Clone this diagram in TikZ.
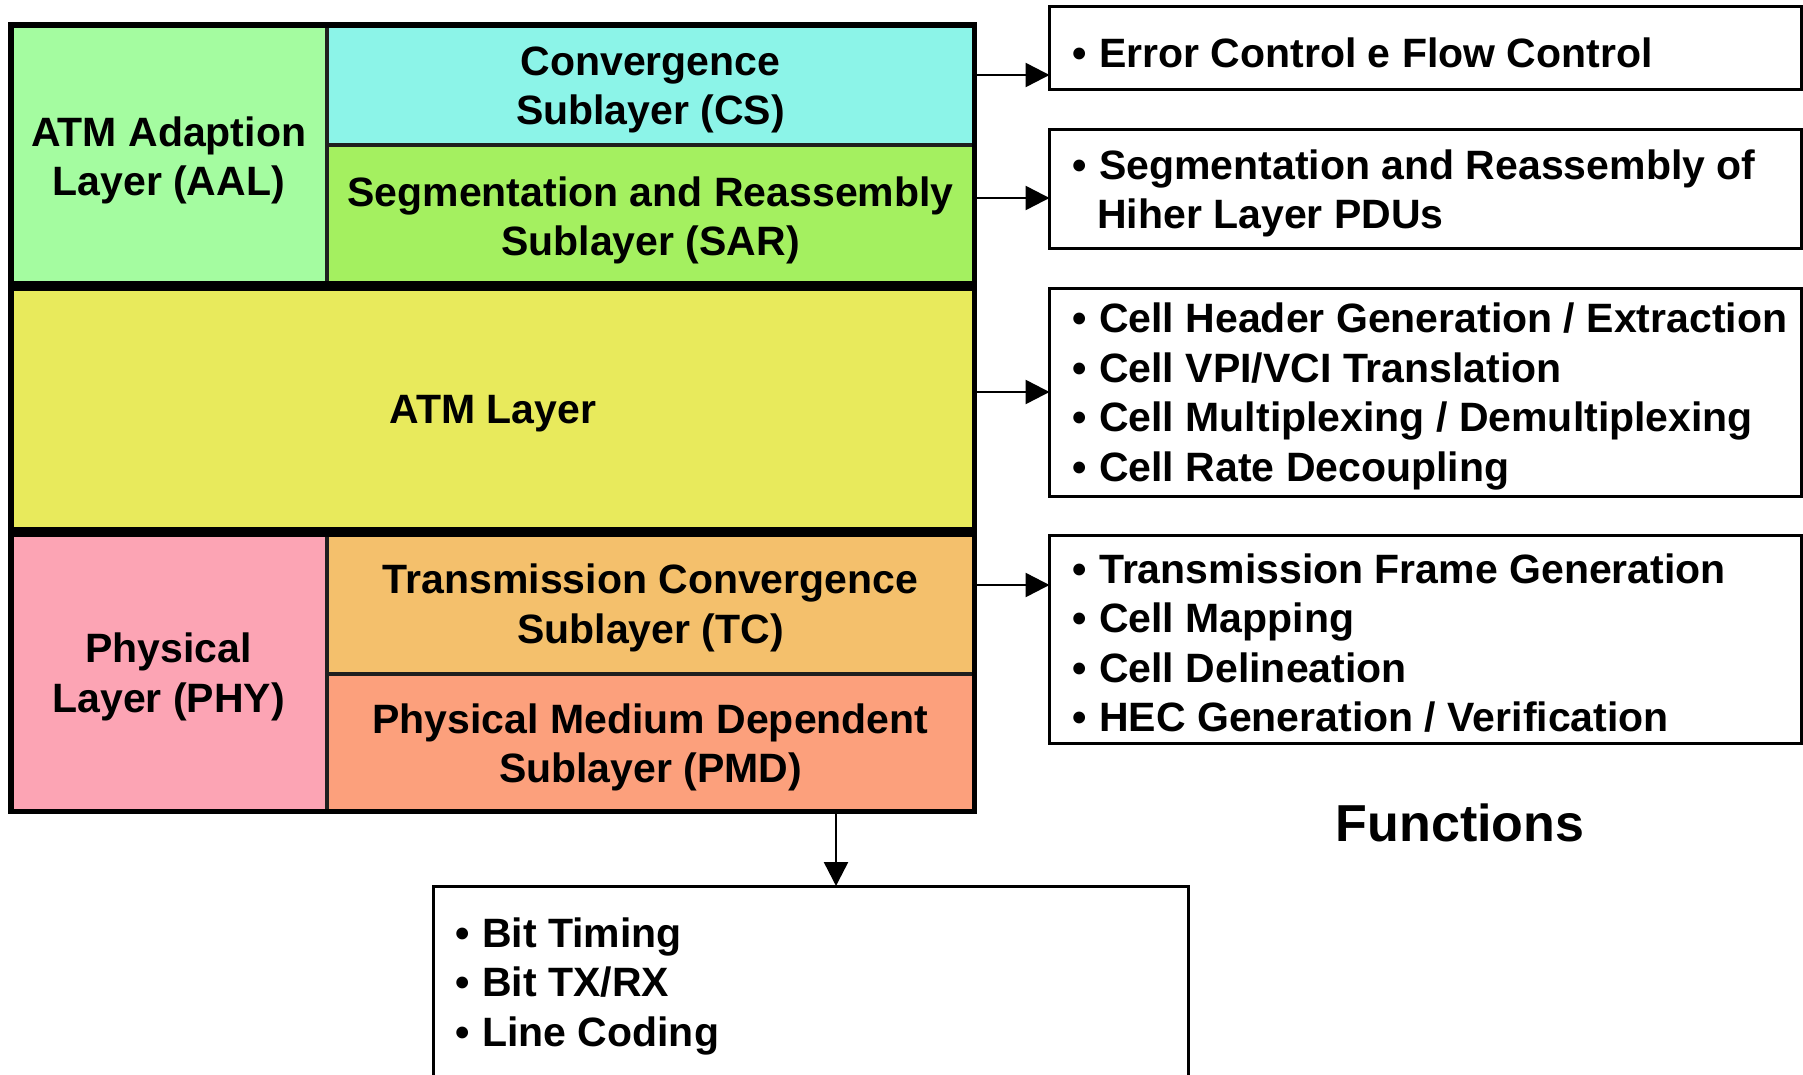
\documentclass[tikz,border=0pt]{standalone}
\usepackage{fontspec}
\setmainfont{Liberation Sans}
\usetikzlibrary{arrows.meta}
\definecolor{aalc}{HTML}{A4FCA0}
\definecolor{csc}{HTML}{8CF4E8}
\definecolor{sarc}{HTML}{A4F060}
\definecolor{atmc}{HTML}{E8EA5C}
\definecolor{phyc}{HTML}{FCA4B4}
\definecolor{tcc}{HTML}{F4C06C}
\definecolor{pmdc}{HTML}{FCA07C}
\newcommand{\labfont}{\fontsize{41}{49.5}\selectfont\bfseries}
\newcommand{\bul}{\makebox[27pt][l]{•}}
\begin{document}
\begin{tikzpicture}[x=1pt,y=-1pt,
  region/.style={inner sep=0pt, outer sep=0pt, anchor=north west},
  lbl/.style={inner sep=0pt, align=center, font=\labfont, yshift=-5pt},
  fbox/.style={draw=black, line width=3pt, inner sep=0pt, outer sep=0pt, anchor=north west, fill=white},
  item/.style={anchor=west, align=left, inner sep=0pt, font=\labfont, yshift=-4pt},
  band/.style={line width=10pt, black},
  divline/.style={line width=4pt, black!88},
  frameline/.style={line width=5.5pt, black},
  arr/.style={line width=2.5pt, -{Triangle[length=24pt,width=24pt]}}]
\useasboundingbox (0,0) rectangle (1803,1075);
\fill[white] (0,0) rectangle (1803,1075);
% layer stack
\node[region, fill=aalc, minimum width=315.5pt, minimum height=261pt] (aal) at (11,25) {};
\node[region, fill=csc, minimum width=648pt, minimum height=120pt] (cs) at (326.5,25) {};
\node[region, fill=sarc, minimum width=648pt, minimum height=141pt] (sar) at (326.5,145) {};
\node[region, fill=atmc, minimum width=963.5pt, minimum height=246pt] (atm) at (11,286) {};
\node[region, fill=phyc, minimum width=315.5pt, minimum height=279.5pt] (phy) at (11,532) {};
\node[region, fill=tcc, minimum width=648pt, minimum height=141.5pt] (tc) at (326.5,532) {};
\node[region, fill=pmdc, minimum width=648pt, minimum height=138pt] (pmd) at (326.5,673.5) {};
\node[lbl] (aaltxt) at (aal.center) {ATM Adaption\\Layer (AAL)};
\node[lbl] (cstxt) at (cs.center) {Convergence\\Sublayer (CS)};
\node[lbl] (sartxt) at (sar.center) {Segmentation and Reassembly\\Sublayer (SAR)};
\node[lbl] (atmtxt) at (atm.center) {ATM Layer};
\node[lbl] (phytxt) at (phy.center) {Physical\\Layer (PHY)};
\node[lbl] (tctxt) at (tc.center) {Transmission Convergence\\Sublayer (TC)};
\node[lbl] (pmdtxt) at (pmd.center) {Physical Medium Dependent\\Sublayer (PMD)};
% separators
\draw[divline] (aal.north east) -- (aal.south east);
\draw[divline] (phy.north east) -- (phy.south east);
\draw[divline] (cs.south west) -- (cs.south east);
\draw[divline] (tc.south west) -- (tc.south east);
\draw[band] (aal.south west) -- (sar.south east);
\draw[band] (atm.south west) -- (atm.south east);
\draw[frameline] (aal.north west) rectangle (pmd.south east);
% function boxes
\node[fbox, minimum width=752pt, minimum height=83pt] (f1) at (1049.5,7) {};
\node[fbox, minimum width=752pt, minimum height=118.5pt] (f2) at (1049.5,130) {};
\node[fbox, minimum width=752pt, minimum height=207.5pt] (f3) at (1049.5,288.5) {};
\node[fbox, minimum width=752pt, minimum height=207.5pt] (f4) at (1049.5,535.5) {};
\node[fbox, minimum width=755pt, minimum height=220pt] (f5) at (433,886) {};
\node[item] (t1) at (1072,48.5) {\bul Error Control e Flow Control};
\node[item] (t2) at (1072,189.25) {\bul Segmentation and Reassembly of\\\hspace*{25pt}Hiher Layer PDUs};
\node[item] (t3) at (1072,392.25) {\bul Cell Header Generation / Extraction\\\bul Cell VPI/VCI Translation\\\bul Cell Multiplexing / Demultiplexing\\\bul Cell Rate Decoupling};
\node[item] (t4) at (1072,639.25) {\bul Transmission Frame Generation\\\bul Cell Mapping\\\bul Cell Delineation\\\bul HEC Generation / Verification};
\node[item] (t5) at (455,982) {\bul Bit Timing\\\bul Bit TX/RX\\\bul Line Coding};
\node[font=\fontsize{52}{60}\selectfont\bfseries, inner sep=0pt] (fn) at (1460,823) {Functions};
% connectors
\coordinate (p1) at (974.5,75);
\coordinate (p2) at (974.5,198);
\coordinate (p3) at (974.5,392);
\coordinate (p4) at (974.5,585);
\coordinate (p5) at (836,811.5);
\draw[arr] (p1) -- (p1 -| f1.west);
\draw[arr] (p2) -- (p2 -| f2.west);
\draw[arr] (p3) -- (p3 -| f3.west);
\draw[arr] (p4) -- (p4 -| f4.west);
\draw[arr] (p5) -- (p5 |- f5.north);
\end{tikzpicture}
\end{document}
